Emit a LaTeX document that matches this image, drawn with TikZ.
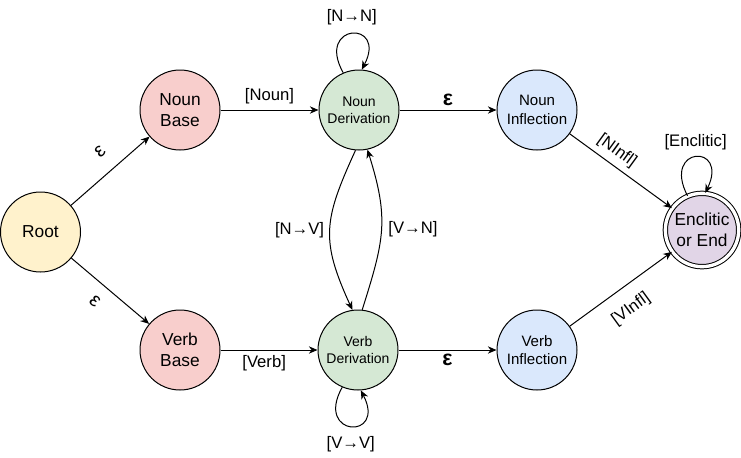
\documentclass[tikz,border=0pt]{standalone}
\usepackage{fontspec}
\setmainfont{Liberation Sans}
\usetikzlibrary{arrows.meta}

\definecolor{rootfill}{HTML}{FFF2CC}
\definecolor{basefill}{HTML}{F8CECC}
\definecolor{derfill}{HTML}{D5E8D4}
\definecolor{inffill}{HTML}{DAE8FC}
\definecolor{encfill}{HTML}{E1D5E7}

\begin{document}
\begin{tikzpicture}[x=0.75pt,y=0.75pt,yscale=-1,xscale=1,
  state/.style={circle,draw,line width=0.75pt,minimum size=60pt,inner sep=0pt,align=center},
  bigtext/.style={font=\fontsize{13}{16}\selectfont},
  dertext/.style={font=\fontsize{10.5}{12.5}\selectfont},
  inftext/.style={font=\fontsize{11.3}{14}\selectfont},
  arr/.style={line width=0.75pt,-{Stealth[length=6.5pt,width=5.5pt]}},
  lbl/.style={font=\fontsize{12.5}{15}\selectfont,inner sep=2pt},
  epsthin/.style={font=\fontsize{15}{17}\selectfont,inner sep=1pt},
  epsbold/.style={font=\fontsize{16}{18}\selectfont\bfseries,inner sep=2pt}]
\useasboundingbox (0,0) rectangle (741,457);

% States
\node[state,bigtext,fill=rootfill] (root) at (40.5,232) {Root};
\node[state,bigtext,fill=basefill] (nbase) at (180,110) {Noun\\Base};
\node[state,bigtext,fill=basefill] (vbase) at (180,350) {Verb\\Base};
\node[state,dertext,fill=derfill] (nder) at (359,110) {Noun\\Derivation};
\node[state,dertext,fill=derfill] (vder) at (358,350) {Verb\\Derivation};
\node[state,inftext,fill=inffill] (ninf) at (537,110) {Noun\\Inflection};
\node[state,inftext,fill=inffill] (vinf) at (537,350) {Verb\\Inflection};
\node[state,bigtext,fill=encfill,double,double distance=2.5pt,minimum size=55pt] (enc) at (702,230) {Enclitic\\or End};

% Transitions from the root
\draw[arr] (root) -- (nbase);
\draw[arr] (root) -- (vbase);
\node[epsthin,rotate=41] (epsn) at (100,152) {ε};
\node[epsthin,rotate=-40] (epsv) at (95,301) {ε};

% Base to derivation
\draw[arr] (nbase) -- node[lbl,above=2pt] (lnoun) {[Noun]} (nder);
\draw[arr] (vbase) -- node[lbl,below=2pt,pos=0.45] (lverb) {[Verb]} (vder);

% Derivation loops
\draw[arr] (nder.113) .. controls +(-28,-50) and +(26,-50) .. node[lbl,pos=0.5,above=4pt] (lnn) {[N→N]} (nder.86);
\draw[arr] (vder.247) .. controls +(-28,50) and +(26,50) .. node[lbl,pos=0.5,below=5pt] (lvv) {[V→V]} (vder.274);
\draw[arr] (nder.265) .. controls +(-32,70) and +(-32,-70) .. node[lbl,left=2pt] (lnv) {[N→V]} (vder.98);
\draw[arr] (vder.84) .. controls +(22,-70) and +(22,70) .. node[lbl,right=3pt] (lvn) {[V→N]} (nder.282);

% Derivation to inflection
\draw[arr] (nder) -- node[epsbold,above=1pt] (epsni) {ε} (ninf);
\draw[arr] (vder) -- node[epsbold,below=1pt] (epsvi) {ε} (vinf);

% Inflection to end
\draw[arr] (ninf) -- (enc);
\draw[arr] (vinf) -- (enc);
\node[lbl,rotate=-36] (lninfl) at (617,151) {[NInfl]};
\node[lbl,rotate=36] (lvinfl) at (631,309) {[VInfl]};
\draw[arr] (enc.113) .. controls +(-26,-50) and +(24,-50) .. node[lbl,pos=0.5,above=3pt] (lenc) {[Enclitic]} (enc.85);

\end{tikzpicture}
\end{document}
